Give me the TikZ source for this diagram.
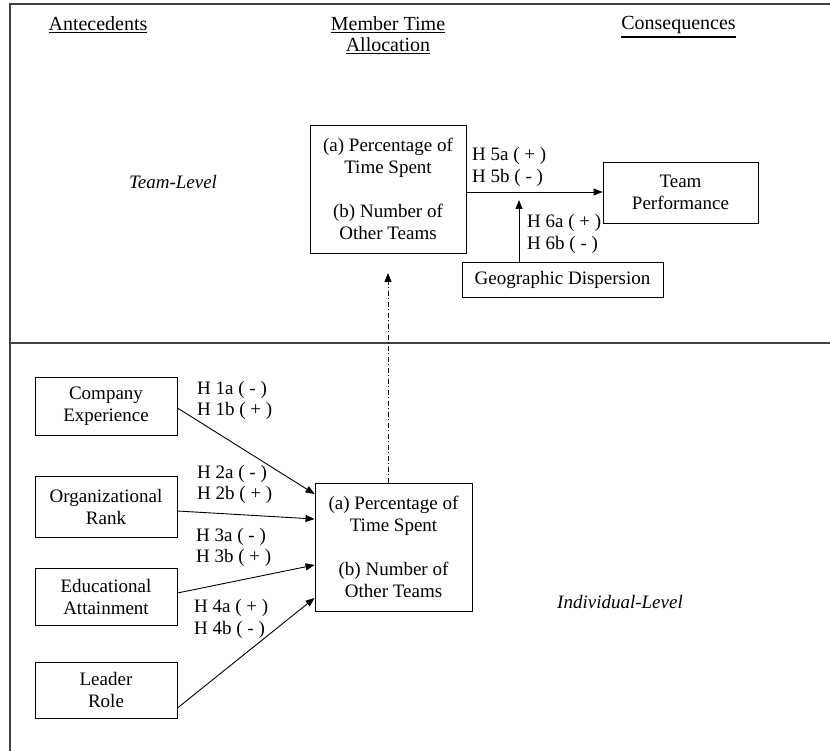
\documentclass[tikz,border=0pt]{standalone}
\usepackage{fontspec}
\setmainfont{Liberation Serif}
\usetikzlibrary{arrows.meta}
\begin{document}
\begin{tikzpicture}[x=1pt,y=-1pt,
  every node/.style={font=\fontsize{19}{22}\selectfont, inner sep=0pt},
  head/.style={font=\fontsize{20}{21}\selectfont},
  lvl/.style={font=\fontsize{19}{22}\selectfont\itshape},
  box/.style={draw, line width=0.9pt, align=center},
  hyp/.style={anchor=west, align=left, font=\fontsize{19}{21.5}\selectfont},
  arr/.style={line width=0.9pt, -{Triangle[length=9pt,width=7pt]}},
  frameline/.style={draw=black!75, line width=1.4pt}
]
\useasboundingbox (0,0) rectangle (830,751);
% frame
\draw[frameline] (10,751) -- (10,4) -- (830,4);
\draw[frameline] (10,343) -- (830,343);
% headings
\node[head] (ant) at (98,25) {\underline{Antecedents}};
\node[head] (mta1) at (388,25) {\underline{Member Time}};
\node[head] (mta2) at (388,46) {\underline{Allocation}};
\node[head] (con) at (678.5,25) {Consequences};
\draw[line width=1.6pt] ([yshift=-3pt]con.south west) -- ([yshift=-3pt]con.south east);
\node[lvl] (tl) at (173,182) {Team-Level};
\node[lvl] (il) at (620,602) {Individual-Level};
% team level
\node[box, minimum width=156pt, minimum height=128pt] (tbox) at (388,189)
  {(a) Percentage of\\Time Spent\\[22pt](b) Number of\\Other Teams};
\node[box, minimum width=155pt, minimum height=61pt] (tp) at (680.5,192.5) {Team\\Performance};
\node[box, minimum width=201pt, minimum height=35pt] (gd) at (562.5,279.5) {Geographic Dispersion};
\coordinate (mod) at (519,200);
\draw[arr] (tbox.east |- 0,192) -- (tp.west |- 0,192);
\draw[arr] (gd.north -| mod) -- (mod);
\node[hyp] (h5) at (472,167) {H 5a ( + )\\H 5b ( - )};
\node[hyp] (h6) at (527,234) {H 6a ( + )\\H 6b ( - )};
% individual level
\node[box, minimum width=142pt, minimum height=58pt] (ce) at (106,406) {Company\\Experience};
\node[box, minimum width=142pt, minimum height=61pt] (or) at (106,506.5) {Organizational\\Rank};
\node[box, minimum width=142pt, minimum height=57pt] (ea) at (106,596.5) {Educational\\Attainment};
\node[box, minimum width=142pt, minimum height=56pt] (lr) at (106,690) {Leader\\Role};
\node[box, minimum width=157pt, minimum height=128pt] (ibox) at (393.5,547)
  {(a) Percentage of\\Time Spent\\[22pt](b) Number of\\Other Teams};
\draw[arr] (ce.east |- 0,408) -- (ibox.west |- 0,494);
\draw[arr] (or.east |- 0,511) -- (ibox.west |- 0,519);
\draw[arr] (ea.east |- 0,593) -- (ibox.west |- 0,565);
\draw[arr] (lr.east |- 0,708) -- (ibox.west |- 0,598);
\node[hyp] (h1) at (197,400.5) {H 1a ( - )\\H 1b ( + )};
\node[hyp] (h2) at (197,484.5) {H 2a ( - )\\H 2b ( + )};
\node[hyp] (h3) at (196,547.5) {H 3a ( - )\\H 3b ( + )};
\node[hyp] (h4) at (194,619) {H 4a ( + )\\H 4b ( - )};
% cross-level
\coordinate (dtip) at (388,273);
\draw[line width=0.9pt, dash pattern=on 5pt off 2.5pt on 1pt off 2.5pt, -{Triangle[length=9pt,width=7pt]}]
  (ibox.north -| dtip) -- (dtip);
\end{tikzpicture}
\end{document}
